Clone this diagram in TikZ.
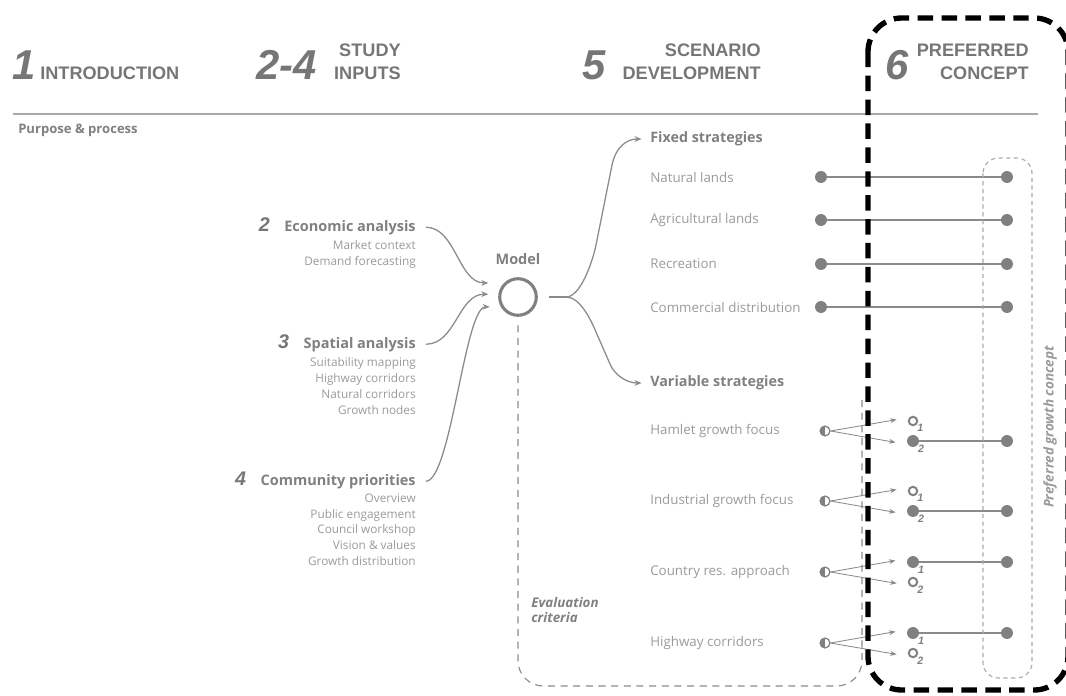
\documentclass[tikz,border=0pt]{standalone}
\usepackage{fontspec}
\setmainfont{Open Sans}
\newfontfamily\hdrfont{Liberation Sans}
\usetikzlibrary{arrows.meta,positioning,calc}
\definecolor{figdark}{HTML}{767676}
\definecolor{figgrey}{HTML}{808080}
\definecolor{figlight}{HTML}{9A9A9A}
\definecolor{figline}{HTML}{8A8A8A}
\definecolor{figrule}{HTML}{AAAAAA}

\tikzset{
  hdrnum/.style={text=figdark, font=\hdrfont\fontsize{29.7}{30}\selectfont\bfseries\itshape, inner sep=0pt, anchor=base west},
  hdrtxt/.style={text=figdark, font=\hdrfont\fontsize{12.9}{14}\selectfont\bfseries, inner sep=0pt},
  innum/.style={text=figdark, font=\hdrfont\fontsize{14}{15}\selectfont\bfseries\itshape, inner sep=0pt, anchor=base east},
  intitle/.style={text=figgrey, font=\fontsize{10.3}{11}\selectfont\bfseries, inner sep=0pt},
  initem/.style={text=figlight, font=\fontsize{8.4}{9}\selectfont, inner sep=0pt, anchor=base east},
  strathead/.style={text=figgrey, font=\fontsize{10.2}{11}\selectfont\bfseries, inner sep=0pt, anchor=west},
  stratlabel/.style={text=figlight, font=\fontsize{9.5}{10}\selectfont, inner sep=0pt, anchor=west},
  fulldot/.style={circle, fill=figgrey, minimum size=8.5pt, inner sep=0pt},
  opendot/.style={circle, draw=figgrey, line width=1.4pt, fill=white, minimum size=6pt, inner sep=0pt},
  halfdot/.style={circle, draw=figgrey, line width=0.9pt, fill=white, minimum size=7pt, inner sep=0pt,
    path picture={\fill[figgrey] (path picture bounding box.south west) rectangle (path picture bounding box.north);}},
  optnum/.style={text=figgrey, font=\hdrfont\fontsize{7.6}{8}\selectfont\bfseries\itshape, inner sep=0pt},
  link/.style={draw=figline, line width=0.9pt},
  conn/.style={draw=figline, line width=0.9pt},
  connarrow/.style={conn, -{Stealth[length=5pt,width=4pt]}},
  fan/.style={draw=figline, line width=0.6pt, -{Stealth[length=4.5pt,width=3.5pt]}},
  evaldash/.style={draw=figline, line width=0.8pt, dash pattern=on 5pt off 4pt, rounded corners=18pt},
  prefdash/.style={draw=figrule, line width=0.8pt, dash pattern=on 3pt off 2.5pt, rounded corners=11pt},
  thickdash/.style={draw=black, line width=3.8pt, dash pattern=on 11pt off 6pt, rounded corners=24pt},
}

\begin{document}
\begin{tikzpicture}[x=0.025cm,y=-0.025cm]
\useasboundingbox (0,0) rectangle (1066,696);

% header
\node[hdrnum] (n1) at (12,80) {1};
\node[hdrtxt, anchor=base west] (intro) at (40,80) {INTRODUCTION};
\node[hdrnum] (n24) at (256,80) {2-4};
\node[hdrtxt, anchor=base east] (study) at (401,57) {STUDY};
\node[hdrtxt, anchor=base east] (inputs) at (401,80) {INPUTS};
\node[hdrnum] (n5) at (582,80) {5};
\node[hdrtxt, anchor=base east] (scen) at (761,57) {SCENARIO};
\node[hdrtxt, anchor=base east] (devel) at (761,80) {DEVELOPMENT};
\node[hdrnum] (n6) at (885,80) {6};
\node[hdrtxt, anchor=base east] (pref) at (1029,57) {PREFERRED};
\node[hdrtxt, anchor=base east] (concept) at (1029,80) {CONCEPT};
\draw[figrule, line width=0.9pt] (13,114) -- (1038,114);
\node[intitle, anchor=west, font=\fontsize{9.3}{10}\selectfont\bfseries] (purpose) at (18,130) {Purpose \& process};

% study inputs
\node[intitle, anchor=base east] (econ) at (416,231) {Economic analysis};
\node[innum, xshift=-10pt] (econnum) at (econ.base west) {2};
\foreach \txt [count=\i] in {Market context, Demand forecasting}
  \node[initem] (econ-\i) at (416,{233+16*\i}) {\txt};

\node[intitle, anchor=base east] (spat) at (416,348) {Spatial analysis};
\node[innum, xshift=-10pt] (spatnum) at (spat.base west) {3};
\foreach \txt [count=\i] in {Suitability mapping, Highway corridors, Natural corridors, Growth nodes}
  \node[initem] (spat-\i) at (416,{350+16*\i}) {\txt};

\node[intitle, anchor=base east] (comm) at (416,485) {Community priorities};
\node[innum, xshift=-10pt] (commnum) at (comm.base west) {4};
\foreach \txt [count=\i] in {Overview, Public engagement, Council workshop, Vision \& values, Growth distribution}
  \node[initem] (comm-\i) at (416,{487+15.6*\i}) {\txt};

% model
\node[circle, draw=figgrey, line width=2.2pt, minimum size=26pt, inner sep=0pt] (model) at (518,297) {};
\node[intitle, above=9pt of model] (modellbl) {Model};

\draw[connarrow] ([xshift=7pt]econ.east) .. controls +(30,0) and +(-30,0) .. ([xshift=-7pt,yshift=10pt]model.west);
\draw[connarrow] ([xshift=7pt]spat.east) .. controls +(30,0) and +(-30,0) .. ([xshift=-7pt,yshift=2pt]model.west);
\draw[connarrow] ([xshift=7pt]comm.east) .. controls +(25,0) and +(-25,0) .. ([xshift=-6pt,yshift=-7pt]model.west);

% scenario development
\node[strathead] (fixed) at (650,139) {Fixed strategies};
\node[strathead] (variable) at (650,383) {Variable strategies};
\draw[conn] ([xshift=8pt]model.east) -- ++(17,0) coordinate (split);
\draw[connarrow] (split) .. controls +(14,0) and +(-4,19) .. (596,245) -- (612,165)
  .. controls +(4,-19) and +(-14,0) .. ([xshift=-6pt]fixed.west);
\draw[connarrow] (split) .. controls +(14,0) and +(-5,-12) .. (596,332) -- (610,364)
  .. controls +(5,12) and +(-14,0) .. ([xshift=-6pt]variable.west);

\coordinate (rcol) at (1007,0);
\foreach \nm/\txt/\yy in {nat/Natural lands/177, agr/Agricultural lands/220, rec/Recreation/264, com/Commercial distribution/307}{
  \node[stratlabel] (\nm) at (650,\yy) {\txt};
  \node[fulldot] (\nm-a) at (821,\yy) {};
  \node[fulldot] (\nm-b) at (\nm-a -| rcol) {};
  \draw[link] (\nm-a) -- (\nm-b);
}

\foreach \nm/\txt/\yy/\sa/\sb/\pick in {ham/Hamlet growth focus/431/opendot/fulldot/2,
    ind/Industrial growth focus/501/opendot/fulldot/2,
    cty/Country res. approach/572/fulldot/opendot/1,
    hwy/Highway corridors/643/fulldot/opendot/1}{
  \node[stratlabel] (\nm) at (650,\yy) {\txt};
  \node[halfdot] (\nm-h) at (825,\yy) {};
  \node[\sa, label={[optnum, label distance=0pt]-40:1}] (\nm-1) at (913,{\yy-10}) {};
  \node[\sb, label={[optnum, label distance=0pt]-40:2}] (\nm-2) at (913,{\yy+10}) {};
  \draw[fan] (\nm-h.east) -- ([xshift=-8pt,yshift=1pt]\nm-1.west);
  \draw[fan] (\nm-h.east) -- ([xshift=-8pt,yshift=-1pt]\nm-2.west);
  \node[fulldot] (\nm-r) at (\nm-\pick -| rcol) {};
  \draw[link] (\nm-\pick) -- (\nm-r);
}

% evaluation criteria
\coordinate (evalbl) at (518,686);
\coordinate (evalbr) at (862,686);
\coordinate (evaltr) at (862,395);
\draw[evaldash] ([yshift=-6pt]model.south) -- (evalbl) -- (evalbr) -- (evaltr);
\node[text=figgrey, font=\fontsize{9.5}{10.8}\selectfont\bfseries\itshape, inner sep=0pt, align=left, anchor=north west] (evallbl) at (531,597) {Evaluation\\criteria};

% preferred concept
\draw[prefdash] (983,158) rectangle (1032,678);
\node[rotate=90, text=figlight, font=\fontsize{9.6}{10}\selectfont\bfseries\itshape, inner sep=0pt] (preflbl) at (1050,427) {Preferred growth concept};
\draw[thickdash] (868,18) rectangle (1068,690);
\end{tikzpicture}
\end{document}
